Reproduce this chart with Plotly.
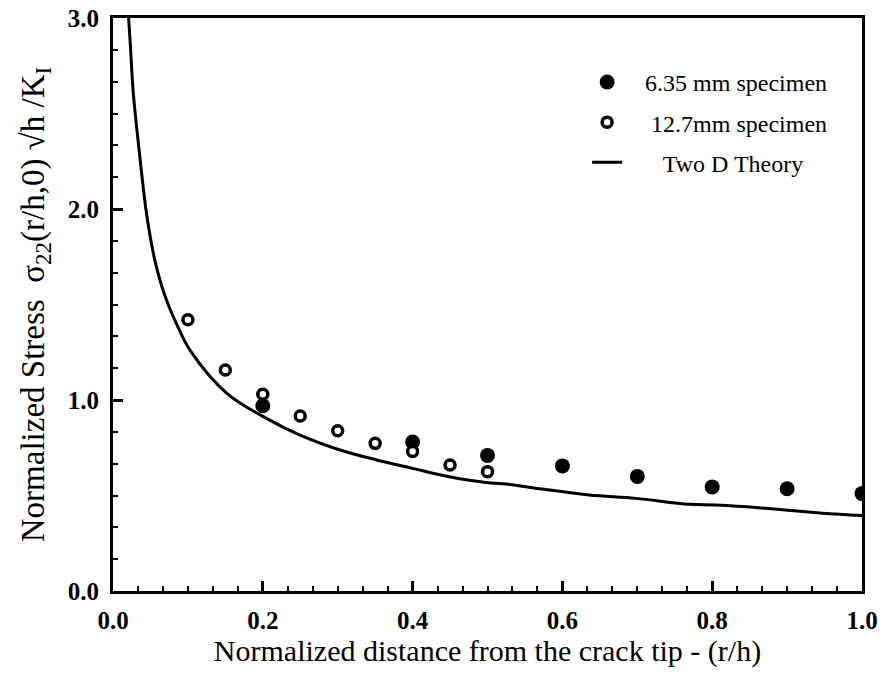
import plotly.graph_objects as go

# valores
x_635 = [0.2, 0.4, 0.5, 0.6, 0.7, 0.8, 0.9, 1.0]
y_635 = [0.97, 0.78, 0.71, 0.655, 0.60, 0.545, 0.535, 0.51]

x_127 = [0.1, 0.15, 0.2, 0.25, 0.3, 0.35, 0.4, 0.45, 0.5]
y_127 = [1.42, 1.157, 1.03, 0.916, 0.839, 0.773, 0.73, 0.66, 0.625]

x_teoria = [0.020, 0.023, 0.027, 0.034, 0.045, 0.056, 0.069, 0.087, 0.103,
            0.152, 0.205, 0.249, 0.303, 0.352, 0.40, 0.449, 0.50, 0.52,
            0.573, 0.636, 0.698, 0.769, 0.805, 0.872, 0.947, 1.0]
y_teoria = [3.05, 2.87, 2.61, 2.34, 1.97, 1.73, 1.55, 1.38, 1.26,
            1.035, 0.904, 0.817, 0.738, 0.686, 0.642, 0.598, 0.567, 0.562,
            0.534, 0.503, 0.485, 0.454, 0.450, 0.433, 0.407, 0.395]

x_ticks = [0.0, 0.2, 0.4, 0.6, 0.8, 1.0]
y_ticks = [0.0, 1.0, 2.0, 3.0]

fonte = "Liberation Serif, Times New Roman, serif"

fig = go.Figure()

fig.add_trace(go.Scatter(
    x=x_635, y=y_635, mode="markers", name="   6.35 mm specimen",
    legendgroup="a",
    marker=dict(symbol="circle", size=15, color="black"),
))
fig.add_trace(go.Scatter(
    x=x_127, y=y_127, mode="markers", name="    12.7mm specimen",
    legendgroup="b",
    marker=dict(symbol="circle", size=10, color="white",
                line=dict(color="black", width=3.5)),
))
fig.add_trace(go.Scatter(
    x=x_teoria, y=y_teoria, mode="lines", name="      Two D Theory",
    legendgroup="c",
    line=dict(color="black", width=3, shape="spline", smoothing=1.0),
))

eixo = dict(
    showline=True, linecolor="black", linewidth=3, mirror=True,
    ticks="inside", ticklen=10, tickwidth=2.5, tickcolor="black",
    showgrid=False, zeroline=False, automargin=False,
    tickfont=dict(family=fonte, size=25, color="black", weight="bold"),
    tickformat=".1f", ticklabeloverflow="allow",
)

fig.update_xaxes(
    **eixo, range=[0, 1], tickvals=x_ticks, ticklabelstandoff=5,
    minor=dict(ticks="inside", ticklen=5, tickwidth=2, tickcolor="black",
               dtick=0.2 / 6, showgrid=False),
    title=dict(text="Normalized distance from the crack tip - (r/h)",
               font=dict(family=fonte, size=30, color="black"), standoff=3),
)
fig.update_yaxes(
    **eixo, range=[0, 3], tickvals=y_ticks, ticklabelstandoff=6,
    minor=dict(ticks="inside", ticklen=5, tickwidth=2, tickcolor="black",
               dtick=1 / 6, showgrid=False),
    title=dict(text="Normalized Stress  σ<sub>22</sub>(r/h,0) √h /K<sub>I</sub>",
               font=dict(family=fonte, size=33, color="black"), standoff=14),
)

fig.update_layout(
    width=882, height=683,
    margin=dict(l=113, r=20, t=18, b=92),
    plot_bgcolor="white", paper_bgcolor="white",
    showlegend=True,
    legend=dict(x=0.633, y=0.927, xanchor="left", yanchor="top",
                font=dict(family=fonte, size=24, color="black"),
                bgcolor="rgba(0,0,0,0)", itemwidth=30, tracegroupgap=6),
)

# tira a margem padrao do body para a figura ocupar a janela toda
fig.write_html("out.html", config={"displayModeBar": False},
               post_script="document.body.style.margin='0';")
